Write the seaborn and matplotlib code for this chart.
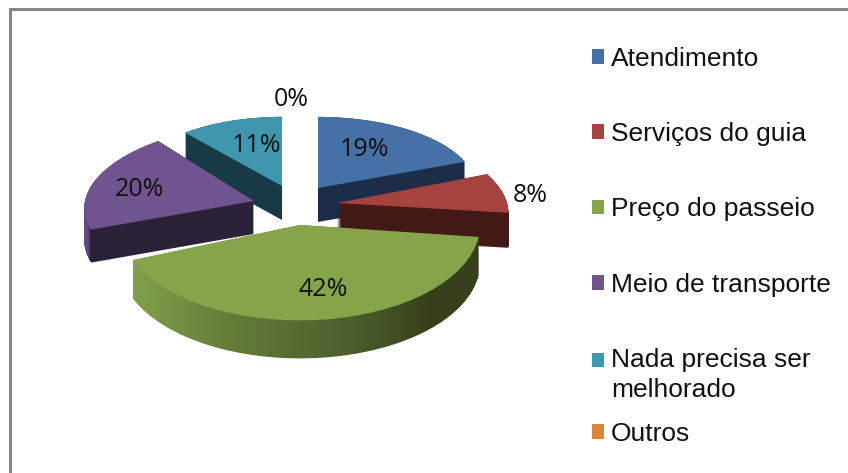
import numpy as np
import matplotlib
matplotlib.use("Agg")
import matplotlib.pyplot as plt
import seaborn as sns
from matplotlib.colors import LinearSegmentedColormap
from matplotlib.patches import Patch, PathPatch
from matplotlib.path import Path
from matplotlib.transforms import Affine2D

categories = ["Atendimento", "Serviços do guia", "Preço do passeio",
              "Meio de transporte", "Nada precisa ser\nmelhorado", "Outros"]
percent_values = [19, 8, 42, 20, 11, 0]

# Appearance -----------------------------------------------------------
top_colors = ["#4571A6", "#A5433F", "#86A44A", "#6F548F", "#3F96AE", "#DB843D"]
wall_colors = ["#1B2D49", "#431A16", "#36401B", "#2C2238", "#183A46", "#6B3D12"]
apex_px = [(318, 188), (337, 203), (300, 225), (254, 201), (282, 186)]
radius_px = [158, 170, 180, 169, 152]
squash = [0.45, 0.46, 0.53, 0.46, 0.455]
shear = [0, -0.28, 0, 0.2, 0]
depth_px = [34, 35, 38, 33, 34]
draw_order = [4, 0, 3, 1, 2]
label_px = [(364, 150), (530, 196), (323, 289), (139, 189), (256, 145), (291, 99)]
W, H = 848, 473

sns.set_theme(style="white")
fig = plt.figure(figsize=(W / 100, H / 100), dpi=100)
ax = fig.add_axes([0, 0, 1, 1])
ax.set_axis_off()

palette = sns.color_palette(top_colors)
wall_palette = sns.color_palette(wall_colors)


def one_wedge(i, zorder):
    cx, py = apex_px[i]
    cy = H - py
    wedges, _ = ax.pie(percent_values, startangle=90, counterclock=False,
                       radius=radius_px[i], center=(cx, cy),
                       normalize=True, frame=True)
    chosen = wedges[i]
    for j, w in enumerate(wedges):
        if j != i:
            w.remove()
    chosen.set_zorder(zorder)
    skew = Affine2D(np.array([[1, shear[i], 0], [0, 1, 0], [0, 0, 1]], dtype=float))
    squeeze = Affine2D().translate(-cx, -cy).scale(1, squash[i]) + skew + Affine2D().translate(cx, cy)
    return chosen, squeeze


for z, i in enumerate(draw_order):
    base = 10 * (z + 1)
    # side wall: the wedge swept downwards
    paths = []
    for d in range(depth_px[i] + 1):
        w, squeeze = one_wedge(i, base)
        paths.append(w.get_path().transformed(w.get_patch_transform() + squeeze + Affine2D().translate(0, -d)))
        w.remove()
    compound = Path.make_compound_path(*paths)
    x0, x1 = compound.vertices[:, 0].min(), compound.vertices[:, 0].max()
    y0, y1 = compound.vertices[:, 1].min(), compound.vertices[:, 1].max()
    if i == 2:
        cmap = LinearSegmentedColormap.from_list(
            "wall", [(0, "#80A04A"), (0.3, "#647A38"), (0.65, "#4B5C2B"), (0.85, "#37421C"), (1, "#36401B")])
    elif i == 3:
        cmap = LinearSegmentedColormap.from_list(
            "wall", [(0, "#6F548F"), (0.045, "#5A4578"), (0.05, wall_colors[3]), (1, wall_colors[3])])
    else:
        cmap = LinearSegmentedColormap.from_list("wall", [wall_palette[i], wall_palette[i]])
    grad = np.linspace(0, 1, 256)[None, :]
    im = ax.imshow(grad, cmap=cmap, extent=(x0, x1, y0, y1), aspect="auto", zorder=base)
    clip = PathPatch(compound, transform=ax.transData, facecolor="none", edgecolor="none")
    im.set_clip_path(clip)
    # top face
    w, squeeze = one_wedge(i, base + 1)
    w.set_transform(w.get_patch_transform() + squeeze + ax.transData)
    w.set_facecolor(palette[i])
    w.set_edgecolor("none")

ax.set_xlim(0, W)
ax.set_ylim(0, H)
ax.set_aspect("auto")
ax.set_axis_off()

for v, (lx, ly) in zip(percent_values, label_px):
    ax.text(lx, H - ly, f"{v}%", ha="center", va="center", fontsize=18,
            family="Open Sans", color="#111111", zorder=200)

# frame of the original picture
ax.plot([10, 10, W + 5], [-5, H - 9, H - 9], color="#868686", lw=2.2, zorder=300,
        solid_joinstyle="miter", clip_on=True)

# legend
handles = [Patch(facecolor=c, edgecolor="none") for c in palette]
common = dict(frameon=False, handlelength=0.49, handleheight=0.49,
              handletextpad=0.24, borderpad=0, borderaxespad=0,
              prop={"family": "Liberation Sans", "size": 19}, labelcolor="#111111",
              loc="upper left", bbox_transform=ax.transData)
leg1 = ax.legend(handles[:5], categories[:5], bbox_to_anchor=(591.5, H - 47),
                 labelspacing=1.94, **common)
for t in leg1.get_texts():
    t.set_linespacing(1.32)
# the swatch of the two-line entry sits on its first line
swatch = leg1.legend_handles[4]
swatch.set_y(swatch.get_y() + 15 * 0.72)
ax.add_artist(leg1)
leg1.set_zorder(210)
leg2 = ax.legend(handles[5:], categories[5:], bbox_to_anchor=(591.5, H - 422), **common)
leg2.set_zorder(210)

fig.savefig("out.png", dpi=100)
